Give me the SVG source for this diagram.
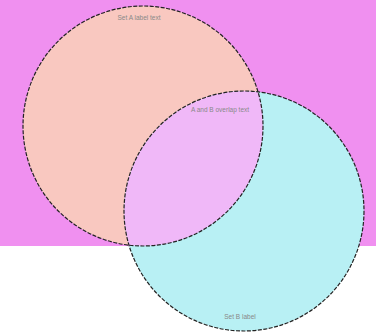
<svg xmlns="http://www.w3.org/2000/svg" width="376" height="333" viewBox="0 0 376 333">
<style>
.c{stroke:#222;stroke-width:1.2;stroke-dasharray:4 1.5;fill:none}
.t{font-family:"Liberation Sans",Arial,sans-serif;font-size:6.5px;fill:#888;text-anchor:middle}
</style>
<defs>
<clipPath id="clipA"><circle cx="143" cy="126" r="120"/></clipPath>
</defs>
<rect x="0" y="0" width="376" height="246" fill="#f090f0"/>
<rect x="0" y="246" width="376" height="87" fill="#ffffff"/>
<g id="setA">
<circle cx="143" cy="126" r="120" fill="#f9c8c0"/>
</g>
<g id="setB">
<circle cx="244" cy="211" r="120" fill="#b8f0f4"/>
</g>
<g id="intersection">
<circle cx="244" cy="211" r="120" fill="#f0b8f8" clip-path="url(#clipA)"/>
</g>
<g id="outlines">
<circle class="c" cx="143" cy="126" r="120"/>
<circle class="c" cx="244" cy="211" r="120"/>
</g>
<text class="t" x="139" y="20">Set A label text</text>
<text class="t" x="220" y="112">A and B overlap text</text>
<text class="t" x="240" y="319">Set B label</text>
</svg>
